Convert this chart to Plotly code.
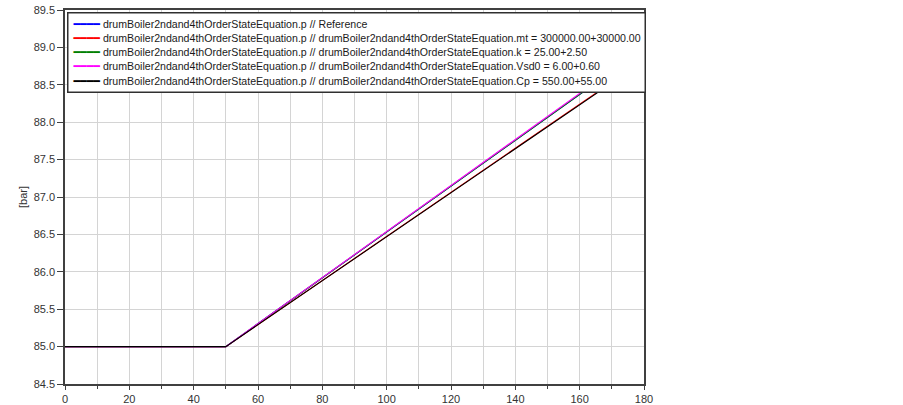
import plotly.graph_objects as go

# time points [s] and pressure [bar] for each simulation run
time = [0, 50, 180]
p_reference = [85.0, 85.0, 88.985]
p_mt = [85.0, 85.0, 88.83]
p_k = [85.0, 85.0, 88.985]
p_vsd0 = [85.0, 85.0, 89.0]
p_cp = [85.0, 85.0, 88.82]

names = [
    "drumBoiler2ndand4thOrderStateEquation.p // Reference",
    "drumBoiler2ndand4thOrderStateEquation.p // drumBoiler2ndand4thOrderStateEquation.mt = 300000.00+30000.00",
    "drumBoiler2ndand4thOrderStateEquation.p // drumBoiler2ndand4thOrderStateEquation.k = 25.00+2.50",
    "drumBoiler2ndand4thOrderStateEquation.p // drumBoiler2ndand4thOrderStateEquation.Vsd0 = 6.00+0.60",
    "drumBoiler2ndand4thOrderStateEquation.p // drumBoiler2ndand4thOrderStateEquation.Cp = 550.00+55.00",
]
colors = ["#0000ff", "#ff0000", "#008000", "#ff00ff", "#000000"]
series = [p_reference, p_mt, p_k, p_vsd0, p_cp]

fig = go.Figure()
for name, col, y in zip(names, colors, series):
    fig.add_trace(go.Scatter(x=time, y=y, mode="lines", name=name,
                             line=dict(color=col, width=1.1)))

# legend as one boxed text block (native legend rows are too tall)
legend_txt = "<br>".join(
    f"<span style='color:{c};font-family:DejaVu Sans;font-size:11px'>━━━━</span>"
    f"<span style='font-size:10.6px'> {n}</span>" for n, c in zip(names, colors)
)
fig.add_annotation(xref="paper", yref="paper", x=0.003, y=0.995,
                   xanchor="left", yanchor="top", align="left", showarrow=False,
                   text=legend_txt, font=dict(size=11, color="#1a1a1a"),
                   bgcolor="white", bordercolor="#303030", borderwidth=1.5, borderpad=4)

axis_common = dict(showline=True, linecolor="#404040", linewidth=1.5, mirror=True,
                   gridcolor="#d4d4d4", gridwidth=1, ticks="outside", tickcolor="#404040",
                   zeroline=False, automargin=False,
                   tickfont=dict(size=11, color="#333"))

fig.update_xaxes(range=[0, 180], dtick=20, ticklen=4,
                 minor=dict(dtick=10, showgrid=True, gridcolor="#d4d4d4",
                            ticks="outside", ticklen=3, tickcolor="#404040"),
                 **axis_common)
fig.update_yaxes(range=[84.5, 89.5], dtick=0.5, tickformat=".1f", ticklen=6,
                 title=dict(text="[bar]", font=dict(size=11, color="#333"), standoff=4),
                 **axis_common)

fig.update_layout(width=903, height=405, showlegend=False,
                  margin=dict(l=65, r=259, t=10, b=21),
                  paper_bgcolor="white", plot_bgcolor="white",
                  font=dict(family="Liberation Sans, Arial, sans-serif"))

fig.write_html("out.html", config={"displayModeBar": False},
               post_script="document.body.style.margin='0';")
